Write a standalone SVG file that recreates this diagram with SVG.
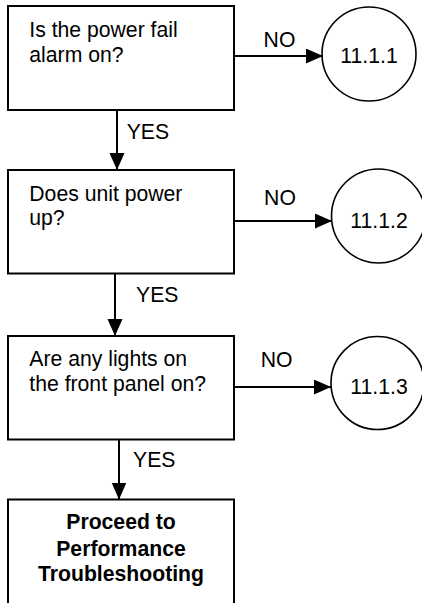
<svg xmlns="http://www.w3.org/2000/svg" width="422" height="603" viewBox="0 0 422 603">
  <style>
    .box { fill: #ffffff; stroke: #000000; stroke-width: 2; }
    .circ { fill: #ffffff; stroke: #000000; stroke-width: 1.6; }
    .t { font-family: "Liberation Sans", Arial, sans-serif; font-size: 21.2px; fill: #000000; }
    .c { text-anchor: middle; }
    .b { font-weight: bold; }
    .conn { stroke: #000000; stroke-width: 2; fill: none; }
  </style>
  <defs>
    <marker id="arrow" markerUnits="userSpaceOnUse" markerWidth="18" markerHeight="16" refX="17" refY="7.5" orient="auto">
      <path d="M0,0 L17,7.5 L0,15 z" fill="#000000"/>
    </marker>
  </defs>
  <rect width="422" height="603" fill="#ffffff"/>

  <g id="q1">
    <rect class="box" x="8" y="6" width="226" height="104"/>
    <text class="t" x="29.3" y="36.7">Is the power fail</text>
    <text class="t" x="29.3" y="61.5">alarm on?</text>
  </g>
  <g id="r1">
    <circle class="circ" cx="369" cy="54" r="47"/>
    <text class="t c" x="369" y="62.7">11.1.1</text>
  </g>

  <g id="q2">
    <rect class="box" x="8" y="170" width="226" height="103.5"/>
    <text class="t" x="29.3" y="200.7">Does unit power</text>
    <text class="t" x="29.3" y="224.5">up?</text>
  </g>
  <g id="r2">
    <circle class="circ" cx="378.5" cy="216" r="47"/>
    <text class="t c" x="379" y="228.3">11.1.2</text>
  </g>

  <g id="q3">
    <rect class="box" x="8" y="336" width="226" height="103.5"/>
    <text class="t" x="29.3" y="366">Are any lights on</text>
    <text class="t" x="29.3" y="390.7">the front panel on?</text>
  </g>
  <g id="r3">
    <circle class="circ" cx="377.5" cy="383" r="46.5"/>
    <text class="t c" x="379" y="394">11.1.3</text>
  </g>

  <g id="end">
    <rect class="box" x="8" y="499.5" width="226" height="106"/>
    <text class="t c b" x="121" y="529.3">Proceed to</text>
    <text class="t c b" x="121" y="556">Performance</text>
    <text class="t c b" x="121" y="580.7">Troubleshooting</text>
  </g>

  <g id="connectors">
    <line class="conn" x1="234" y1="56" x2="323" y2="56" marker-end="url(#arrow)"/>
    <text class="t c" x="279.5" y="46.7">NO</text>
    <line class="conn" x1="117" y1="110" x2="117" y2="170" marker-end="url(#arrow)"/>
    <text class="t" x="126.7" y="139.3">YES</text>

    <line class="conn" x1="234" y1="221" x2="332" y2="221" marker-end="url(#arrow)"/>
    <text class="t c" x="280" y="205">NO</text>
    <line class="conn" x1="115" y1="273.5" x2="115" y2="336" marker-end="url(#arrow)"/>
    <text class="t" x="136" y="301.7">YES</text>

    <line class="conn" x1="234" y1="387" x2="331" y2="387" marker-end="url(#arrow)"/>
    <text class="t c" x="276.7" y="366.7">NO</text>
    <line class="conn" x1="119" y1="439.5" x2="119" y2="499.5" marker-end="url(#arrow)"/>
    <text class="t" x="133" y="467.3">YES</text>
  </g>
</svg>
